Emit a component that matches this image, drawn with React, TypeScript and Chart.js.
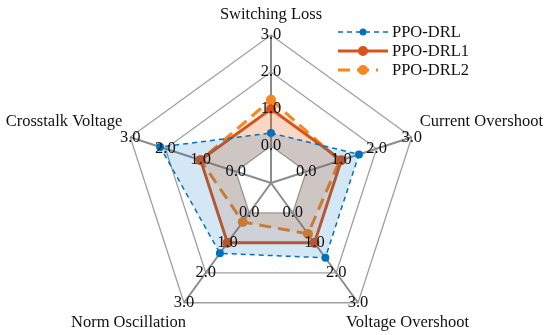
import React, { useEffect, useRef } from "react";
import { Chart, registerables } from "chart.js";

Chart.register(...registerables);

const categories = [
  "Switching Loss",
  "Current Overshoot",
  "Voltage Overshoot",
  "Norm Oscillation",
  "Crosstalk Voltage",
];
const tickValues = [0, 1, 2, 3];
const tickLabels = ["0.0", "1.0", "2.0", "3.0"];
const seriesNames = ["PPO-DRL", "PPO-DRL1", "PPO-DRL2"];
const ppoDrl = [0.35, 1.5, 1.5, 1.35, 2.15];
const ppoDrl1 = [1.0, 1.0, 1.0, 1.0, 1.0];
const ppoDrl2 = [1.25, 0.95, 0.7, 0.3, 1.0];

const BLUE = "#0072BD";
const DORANGE = "#D95319";
const LORANGE = "#F7861C";
const FONT = '"Liberation Serif", "Times New Roman", serif';

const lineStyles = [
  { color: BLUE, dash: [5, 4], width: 1.5, r: 3.5 },
  { color: DORANGE, dash: [], width: 3, r: 5 },
  { color: LORANGE, dash: [12, 7], width: 3, r: 5 },
];

// label placement: [anchorValue, dx, dy, align]
const labelPlace: Array<[number, number, number, CanvasTextAlign]> = [
  [3, 0, -20, "center"],
  [3, 8, -16, "left"],
  [3, -12, 20, "left"],
  [3, 2, 20, "right"],
  [3, -8, -16, "right"],
];

const overlayPlugin = {
  id: "overlay",
  afterDatasetsDraw(chart: any) {
    const ctx = chart.ctx;
    const r = chart.scales.r;
    ctx.save();
    ctx.font = `16.5px ${FONT}`;
    ctx.fillStyle = "#111";
    ctx.textAlign = "center";
    ctx.textBaseline = "middle";
    for (let i = 0; i < categories.length; i++) {
      tickValues.forEach((v, k) => {
        const p = r.getPointPositionForValue(i, v);
        ctx.fillText(tickLabels[k], p.x, p.y);
      });
    }
    categories.forEach((c, i) => {
      const [val, dx, dy, align] = labelPlace[i];
      const p = r.getPointPositionForValue(i, val);
      ctx.textAlign = align;
      ctx.fillText(c, p.x + dx, p.y + dy);
    });
    const lx0 = 338;
    const lx1 = 388;
    const ys = [32, 51, 70];
    seriesNames.forEach((name, i) => {
      const s = lineStyles[i];
      const y = ys[i];
      ctx.strokeStyle = s.color;
      ctx.lineWidth = s.width;
      ctx.setLineDash(s.dash);
      ctx.beginPath();
      ctx.moveTo(lx0, y);
      ctx.lineTo(i === 2 ? 378 : lx1, y);
      ctx.stroke();
      ctx.setLineDash([]);
      ctx.fillStyle = s.color;
      ctx.beginPath();
      ctx.arc(363, y, s.r, 0, Math.PI * 2);
      ctx.fill();
      ctx.fillStyle = "#111";
      ctx.textAlign = "left";
      ctx.fillText(name, 392, y + 1);
    });
    ctx.restore();
  },
};

export default function App() {
  const ref = useRef<HTMLCanvasElement>(null);
  useEffect(() => {
    if (!ref.current) return;
    let chart: any = null;
    let cancelled = false;
    const make = () => {
      if (cancelled || !ref.current) return;
      chart = new Chart(ref.current, {
        type: "radar",
        data: {
          labels: categories,
          datasets: [
            {
              label: seriesNames[0],
              data: ppoDrl,
              borderColor: BLUE,
              backgroundColor: "rgba(0,114,189,0.17)",
              borderDash: [5, 4],
              borderWidth: 1.5,
              pointRadius: 4,
              pointBackgroundColor: BLUE,
              pointBorderWidth: 0,
              fill: true,
            },
            {
              label: seriesNames[1],
              data: ppoDrl1,
              borderColor: DORANGE,
              backgroundColor: "rgba(217,83,25,0.15)",
              borderWidth: 3,
              pointRadius: 5,
              pointBackgroundColor: DORANGE,
              pointBorderWidth: 0,
              fill: true,
            },
            {
              label: seriesNames[2],
              data: ppoDrl2,
              borderColor: LORANGE,
              backgroundColor: "rgba(247,134,28,0.12)",
              borderDash: [12, 7],
              borderWidth: 3,
              pointRadius: 5,
              pointBackgroundColor: LORANGE,
              pointBorderWidth: 0,
              fill: true,
            },
          ],
        },
        options: {
          responsive: false,
          animation: false,
          layout: { padding: { left: 0, right: 8, top: 35, bottom: 4 } },
          plugins: { legend: { display: false }, tooltip: { enabled: false } },
          elements: { line: { tension: 0 } },
          scales: {
            r: {
              min: -1,
              max: 3,
              ticks: { display: false, stepSize: 1 },
              pointLabels: { display: false },
              grid: { color: "#a0a0a0", lineWidth: 1.3 },
              angleLines: { color: "#8c8c8c", lineWidth: 2 },
            },
          },
        },
        plugins: [overlayPlugin],
      });
    };
    const fonts: any = (document as any).fonts;
    if (fonts && fonts.load) {
      fonts.load('16px "Liberation Serif"').then(make, make);
    } else {
      make();
    }
    return () => {
      cancelled = true;
      if (chart) chart.destroy();
    };
  }, []);
  return (
    <div style={{ position: "absolute", left: 0, top: 0, width: 550, height: 335 }}>
      <span style={{ fontFamily: '"Liberation Serif"', position: "absolute", visibility: "hidden" }}>.</span>
      <canvas ref={ref} width={550} height={335} />
    </div>
  );
}
